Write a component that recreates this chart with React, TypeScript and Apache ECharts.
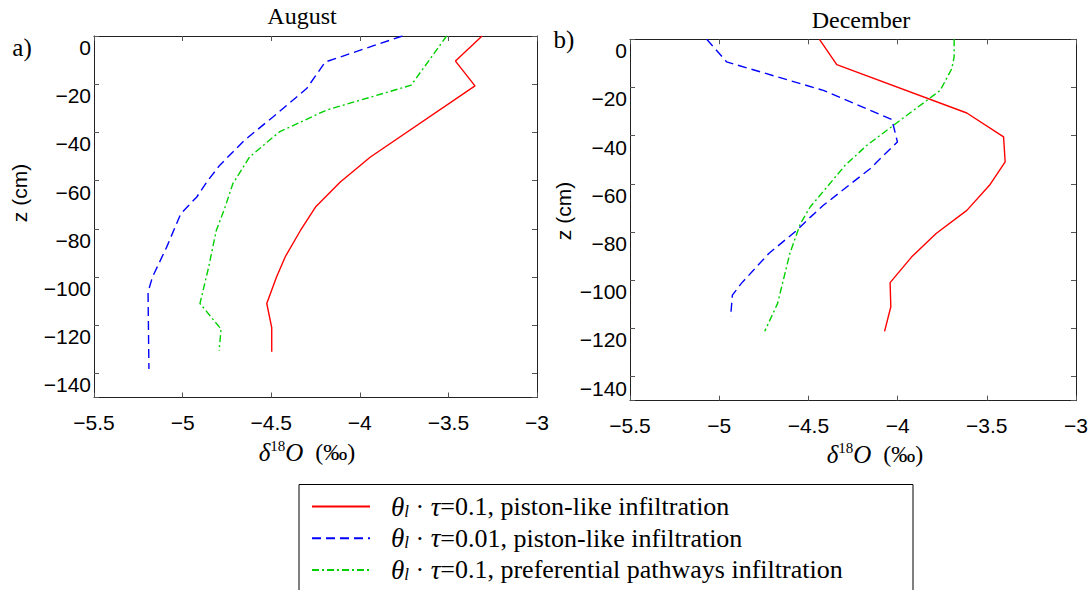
import React, { useEffect, useRef } from 'react';
import * as echarts from 'echarts';

// depth profiles: x = δ18O (‰), z = depth (cm, negative downwards)
const augPistonX = [-3.31, -3.46, -3.35, -3.94, -4.11, -4.25, -4.335, -4.42, -4.47, -4.525, -4.497, -4.497];
const augPistonZ = [0, -10.4, -20.7, -50.2, -60.6, -71, -80.7, -91.5, -100, -111, -121, -131];

const augPiston001X = [-3.76, -4.195, -4.30, -4.49, -4.65, -4.79, -4.86, -4.92, -5.01, -5.09, -5.17, -5.195, -5.19];
const augPiston001Z = [0, -10.8, -21.8, -33.6, -43.2, -53.6, -60.2, -66.8, -73.7, -87.6, -100, -106.3, -138.2];

const augPrefX = [-3.51, -3.71, -4.19, -4.454, -4.622, -4.716, -4.763, -4.81, -4.853, -4.902, -4.783, -4.794];
const augPrefZ = [0, -20.4, -30.8, -39.8, -50.2, -61.2, -71.6, -80.7, -95.9, -111, -121.6, -130.6];

const decPistonX = [-4.438, -4.341, -3.612, -3.406, -3.397, -3.485, -3.612, -3.784, -3.921, -4.042, -4.038, -4.073];
const decPistonZ = [0, -10.5, -30.6, -40.5, -50.9, -60.6, -71, -80.6, -90.3, -101, -111, -121.2];

const decPiston001X = [-5.07, -4.958, -4.416, -4.032, -4.001, -4.154, -4.416, -4.487, -4.565, -4.722, -4.877, -4.926, -4.936];
const decPiston001Z = [0, -9.4, -21.2, -33.3, -42.6, -53.7, -68.9, -73.7, -79.3, -88.9, -101.4, -106.2, -115.2];

const decPrefX = [-3.683, -3.683, -3.696, -3.761, -4.023, -4.172, -4.294, -4.49, -4.545, -4.604, -4.673, -4.745];
const decPrefZ = [0, -7.3, -12.2, -21.2, -35.7, -44, -52.3, -69.6, -76.5, -88.9, -109.7, -121.2];

const panelTitles = ['August', 'December'];
const panelTags = ['a)', 'b)'];
const seriesNames = ['piston01', 'piston001', 'pref01'];
const legendLabels: Record<string, string> = {
  piston01: '{g| }{i|θ}{sub|l}{t| · }{i|τ}{t|=0.1, piston-like infiltration}',
  piston001: '{g| }{i|θ}{sub|l}{t| · }{i|τ}{t|=0.01, piston-like infiltration}',
  pref01: '{g| }{i|θ}{sub|l}{t| · }{i|τ}{t|=0.1, preferential pathways infiltration}',
};

const SANS = 'Liberation Sans';
const SERIF = 'Liberation Serif';

const toPairs = (xs: number[], zs: number[]) => xs.map((x, i) => [x, -zs[i]]);

const lineStyles = [
  { color: '#ff0000', width: 1.4, type: 'solid' as const },
  { color: '#0000ff', width: 1.4, type: [9, 5] },
  { color: '#00d000', width: 1.4, type: [7, 3, 2, 3] },
];

const App: React.FC = () => {
  const chartRef = useRef<HTMLDivElement>(null);

  useEffect(() => {
    if (!chartRef.current) return;
    const chart = echarts.init(chartRef.current, undefined, { renderer: 'svg' });

    const grids = [
      { left: 94, top: 36, width: 443, height: 361.5 },
      { left: 630, top: 39.3, width: 446, height: 361.4 },
    ];

    const xLabel = (v: number) => (v < 0 ? '\u2212' : '') + Math.abs(v);
    const yLabel = (v: number) => (v === 150 ? '' : v === 0 ? '0' : '\u2212' + v);

    const xAxes: any[] = [];
    const yAxes: any[] = [];
    grids.forEach((_, g) => {
      [false, true].forEach((secondary) => {
        xAxes.push({
          type: 'value',
          gridIndex: g,
          position: secondary ? 'top' : 'bottom',
          min: -5.5,
          max: -3,
          interval: 0.5,
          axisLine: { show: true, onZero: false, lineStyle: { color: '#222', width: 1 } },
          axisTick: { show: true, inside: true, length: 5, lineStyle: { color: '#555' } },
          axisLabel: {
            show: !secondary,
            formatter: xLabel,
            fontFamily: SANS,
            fontSize: 21,
            color: '#000',
            margin: 14,
          },
          splitLine: { show: false },
        });
        yAxes.push({
          type: 'value',
          gridIndex: g,
          position: secondary ? 'right' : 'left',
          inverse: true,
          min: 0,
          max: 150,
          interval: 20,
          axisLine: { show: true, onZero: false, lineStyle: { color: '#222', width: 1 } },
          axisTick: { show: true, inside: true, length: 5, lineStyle: { color: '#555' } },
          axisLabel: {
            show: !secondary,
            formatter: yLabel,
            fontFamily: SANS,
            fontSize: 21,
            color: '#000',
            margin: 3,
            verticalAlign: 'top',
            padding: [1, 0, 0, 0],
          },
          splitLine: { show: false },
        });
      });
    });

    const panelData = [
      [toPairs(augPistonX, augPistonZ), toPairs(augPiston001X, augPiston001Z), toPairs(augPrefX, augPrefZ)],
      [toPairs(decPistonX, decPistonZ), toPairs(decPiston001X, decPiston001Z), toPairs(decPrefX, decPrefZ)],
    ];

    const series: any[] = [];
    panelData.forEach((lines, g) => {
      lines.forEach((data, k) => {
        series.push({
          name: seriesNames[k],
          type: 'line',
          xAxisIndex: g * 2,
          yAxisIndex: g * 2,
          data,
          symbol: 'none',
          showSymbol: false,
          lineStyle: lineStyles[k],
          itemStyle: { color: lineStyles[k].color },
          z: 3 - k,
        });
      });
    });

    const serifRich = {
      i: { fontFamily: SERIF, fontStyle: 'italic', fontSize: 27, lineHeight: 26 },
      t: { fontFamily: SERIF, fontSize: 26, lineHeight: 26 },
      sub: { fontFamily: SERIF, fontStyle: 'italic', fontSize: 17, verticalAlign: 'bottom', lineHeight: 17 },
      g: { width: 16 },
    };

    const axisNames = [
      { x: 307, y: 452 },
      { x: 875, y: 454 },
    ];
    const zNames = [
      { x: 19, y: 193 },
      { x: 563, y: 211 },
    ];
    const titlePos = [
      { x: 302, y: 16 },
      { x: 861, y: 20 },
    ];
    const tagPos = [
      { x: 22, y: 47 },
      { x: 564, y: 39 },
    ];

    const graphic: any[] = [];
    [0, 1].forEach((g) => {
      graphic.push({
        type: 'text',
        x: titlePos[g].x,
        y: titlePos[g].y,
        style: {
          text: panelTitles[g],
          fontFamily: SERIF,
          fontSize: 24,
          fill: '#000',
          align: 'center',
          verticalAlign: 'middle',
        },
      });
      graphic.push({
        type: 'text',
        x: tagPos[g].x,
        y: tagPos[g].y,
        style: {
          text: panelTags[g],
          fontFamily: SERIF,
          fontSize: 25,
          fill: '#000',
          align: 'center',
          verticalAlign: 'middle',
        },
      });
      graphic.push({
        type: 'text',
        x: axisNames[g].x,
        y: axisNames[g].y,
        style: {
          text: '{i|δ}{sup|18}{i|O}{t|  (‰)}',
          rich: {
            i: { fontFamily: SERIF, fontStyle: 'italic', fontSize: 25, lineHeight: 28 },
            t: { fontFamily: SERIF, fontSize: 24, lineHeight: 28 },
            sup: { fontFamily: SERIF, fontSize: 15, verticalAlign: 'top', lineHeight: 15 },
          },
          fill: '#000',
          align: 'center',
          verticalAlign: 'middle',
        },
      });
      graphic.push({
        type: 'text',
        x: zNames[g].x,
        y: zNames[g].y,
        rotation: Math.PI / 2,
        style: {
          text: 'z (cm)',
          fontFamily: SANS,
          fontSize: 21,
          fill: '#000',
          align: 'center',
          verticalAlign: 'middle',
        },
      });
    });
    graphic.push({
      type: 'rect',
      shape: { x: 299, y: 484.5, width: 614, height: 150 },
      style: { fill: '#fff', stroke: '#000', lineWidth: 1 },
      z: -1,
    });

    chart.setOption({
      animation: false,
      backgroundColor: '#fff',
      grid: grids,
      xAxis: xAxes,
      yAxis: yAxes,
      series,
      legend: {
        data: seriesNames,
        orient: 'vertical',
        left: 311,
        top: 493,
        padding: 0,
        itemWidth: 58,
        itemHeight: 14,
        itemGap: 4.7,
        selectedMode: false,
        itemStyle: { opacity: 0 },
        formatter: (name: string) => legendLabels[name],
        textStyle: { color: '#000', fontFamily: SERIF, fontSize: 26, lineHeight: 26, rich: serifRich },
      },
      graphic,
    });

    return () => {
      chart.dispose();
    };
  }, []);

  return (
    <div
      ref={chartRef}
      style={{ position: 'fixed', left: 0, top: 0, width: 1092, height: 590 }}
    />
  );
};

export default App;
